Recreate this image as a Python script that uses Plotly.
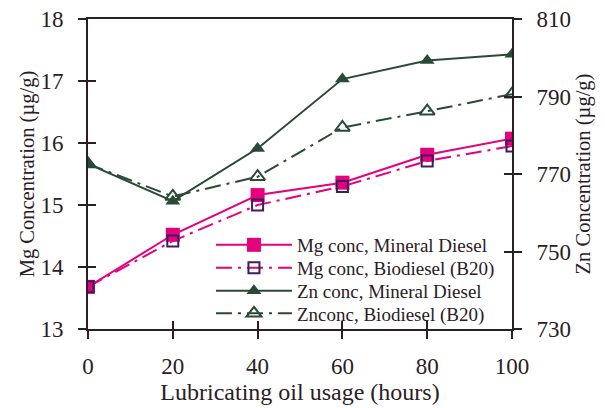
import plotly.graph_objects as go

# Lubricating oil usage (hours)
hours = [0, 20, 40, 60, 80, 100]

# Mg concentration (µg/g), left axis
mg_mineral = [13.68, 14.52, 15.16, 15.36, 15.81, 16.07]
mg_b20 = [13.68, 14.42, 15.00, 15.30, 15.71, 15.95]

# Zn concentration (µg/g), right axis
zn_mineral = [772.6, 763.0, 776.6, 794.5, 799.3, 800.9]
zn_b20 = [772.6, 764.2, 769.3, 782.0, 786.2, 790.6]

mg_ticks = [13, 14, 15, 16, 17, 18]
zn_ticks = [730, 750, 770, 790, 810]
x_ticks = [0, 20, 40, 60, 80, 100]

PINK = "#e5007d"
GREEN = "#2b4a35"
PURPLE = "#3b1f5a"
INK = "#2a2024"
FONT = "Liberation Serif"
DASHDOT = "16px,6px,3px,6px"

fig = go.Figure()

fig.add_trace(go.Scatter(
    x=hours, y=mg_mineral, name="Mg conc, Mineral Diesel",
    mode="lines+markers", legend="legend",
    line=dict(color=PINK, width=2),
    marker=dict(symbol="square", size=14, color=PINK, line=dict(width=0)),
))
fig.add_trace(go.Scatter(
    x=hours, y=mg_b20, name="Mg conc, Biodiesel (B20)",
    mode="lines+markers", legend="legend2",
    line=dict(color=PINK, width=2, dash=DASHDOT),
    marker=dict(symbol="square-open", size=11, color=PURPLE, line=dict(width=2, color=PURPLE)),
))
fig.add_trace(go.Scatter(
    x=hours, y=zn_mineral, name="Zn conc, Mineral Diesel",
    mode="lines+markers", yaxis="y2", legend="legend3",
    line=dict(color=GREEN, width=2),
    marker=dict(symbol="triangle-up", size=13, color=GREEN, line=dict(width=0)),
))
fig.add_trace(go.Scatter(
    x=hours, y=zn_b20, name="Znconc, Biodiesel (B20)",
    mode="lines+markers", yaxis="y2", legend="legend4",
    line=dict(color=GREEN, width=2, dash=DASHDOT),
    marker=dict(symbol="triangle-up-open", size=13, color=GREEN, line=dict(width=2, color=GREEN)),
))

tickfont = dict(family=FONT, size=23, color=INK)
ytitlefont = dict(family=FONT, size=20.5, color=INK)
xtitlefont = dict(family=FONT, size=24, color=INK)


def legend_box(ypos):
    # one legend per series so the entries can sit close together
    return dict(
        x=0.29, y=ypos, xanchor="left", yanchor="middle",
        bgcolor="rgba(0,0,0,0)", borderwidth=0,
        font=dict(family=FONT, size=19, color=INK),
        itemwidth=76,
    )


fig.update_layout(
    width=605, height=408,
    margin=dict(l=88, r=93, t=19, b=79),
    paper_bgcolor="white", plot_bgcolor="white",
    showlegend=True,
    legend=legend_box(0.271),
    legend2=legend_box(0.197),
    legend3=legend_box(0.123),
    legend4=legend_box(0.050),
    xaxis=dict(
        range=[0, 100], tickvals=x_ticks, ticktext=[str(v) for v in x_ticks],
        showgrid=False, zeroline=False, automargin=False,
        showline=True, linecolor=INK, linewidth=2, mirror=True,
        ticks="outside", ticklen=8, tickwidth=1.5, tickcolor=INK,
        tickfont=tickfont, ticklabelstandoff=7,
        title=dict(text="Lubricating oil usage (hours)", font=xtitlefont, standoff=2),
    ),
    xaxis2=dict(
        range=[0, 100], tickvals=x_ticks, showticklabels=False,
        overlaying="x", anchor="y", side="bottom",
        showgrid=False, zeroline=False, showline=False,
        ticks="inside", ticklen=8, tickwidth=1.5, tickcolor=INK,
    ),
    yaxis=dict(
        range=[13, 18], tickvals=mg_ticks,
        showgrid=False, zeroline=False, automargin=False,
        showline=True, linecolor=INK, linewidth=2,
        ticks="outside", ticklen=8, tickwidth=1.5, tickcolor=INK,
        tickfont=tickfont, ticklabelstandoff=10,
        title=dict(text="Mg Concentration (µg/g)", font=ytitlefont, standoff=0),
    ),
    yaxis3=dict(
        range=[13, 18], tickvals=mg_ticks, showticklabels=False,
        overlaying="y", side="left", anchor="x",
        showgrid=False, zeroline=False, showline=False,
        ticks="inside", ticklen=8, tickwidth=1.5, tickcolor=INK,
    ),
    yaxis2=dict(
        range=[730, 810], tickvals=zn_ticks,
        overlaying="y", side="right", anchor="x", automargin=False,
        showgrid=False, zeroline=False,
        showline=True, linecolor=INK, linewidth=2,
        ticks="outside", ticklen=8, tickwidth=1.5, tickcolor=INK,
        tickfont=tickfont, ticklabelstandoff=10,
        title=dict(text="Zn Concentration (µg/g)", font=ytitlefont, standoff=6),
    ),
    yaxis4=dict(
        range=[730, 810], tickvals=zn_ticks, showticklabels=False,
        overlaying="y", side="right", anchor="x",
        showgrid=False, zeroline=False, showline=False,
        ticks="inside", ticklen=8, tickwidth=1.5, tickcolor=INK,
    ),
)

# invisible traces so the inside-tick overlay axes are rendered
fig.add_trace(go.Scatter(x=[None], y=[None], xaxis="x2", yaxis="y3", showlegend=False, hoverinfo="skip"))
fig.add_trace(go.Scatter(x=[None], y=[None], xaxis="x2", yaxis="y4", showlegend=False, hoverinfo="skip"))

fig.write_html("out.html")
